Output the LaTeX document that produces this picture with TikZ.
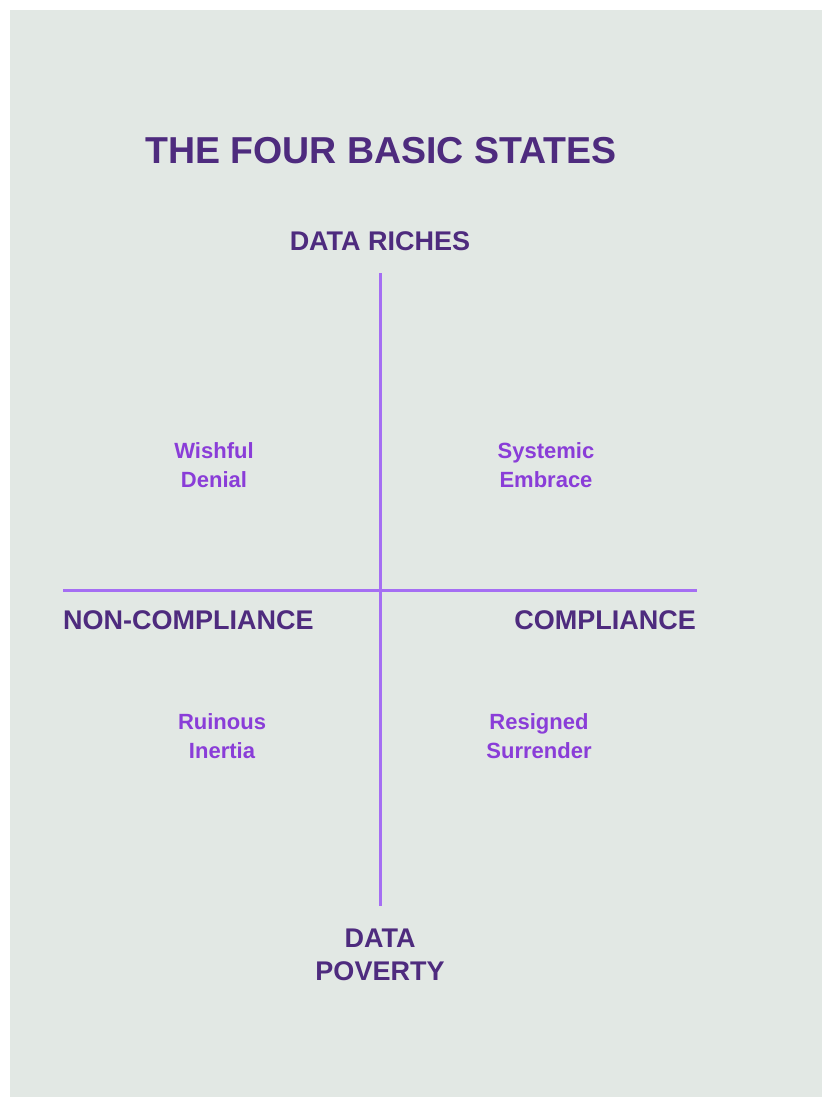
\documentclass[tikz,border=0pt]{standalone}
\usepackage{fontspec}
\setmainfont{Liberation Sans}
\usepackage{tikz}
\usetikzlibrary{positioning}

\definecolor{panelbg}{HTML}{E2E8E4}
\definecolor{deeppurple}{HTML}{4E2B7E}
\definecolor{axispurple}{HTML}{A56EF3}
\definecolor{statepurple}{HTML}{8A3DD8}

\tikzset{
  heading/.style={anchor=base, text=deeppurple, font=\bfseries\fontsize{37.5}{40}\selectfont},
  pole/.style={anchor=base, text=deeppurple, align=center, font=\bfseries\fontsize{27}{33}\selectfont},
  state/.style={anchor=base, text=statepurple, align=center, font=\bfseries\fontsize{22}{29}\selectfont},
  axis/.style={draw=axispurple, line width=3pt}
}

\begin{document}
\begin{tikzpicture}[x=1pt, y=-1pt, inner sep=0pt]
    % Page and panel
    \fill[white] (0,0) rectangle (822,1097);
    \fill[panelbg] (10,10) rectangle (822,1097);
    \useasboundingbox (0,0) rectangle (822,1097);

    % Define nodes
    \node[heading]                 (title)    at (381,163) {THE FOUR BASIC STATES};
    \node[pole]                    (riches)   at (380,250) {DATA RICHES};
    \node[pole]                    (poverty)  at (380,980) {DATA\\POVERTY};
    \node[pole, anchor=base west]  (noncomp)  at (63,629)  {NON-COMPLIANCE};
    \node[pole, anchor=base east]  (comp)     at (696,629) {COMPLIANCE};

    \node[state]                   (wishful)  at (214,487) {Wishful\\Denial};
    \node[state]                   (systemic) at (546,487) {Systemic\\Embrace};
    \node[state]                   (ruinous)  at (222,758) {Ruinous\\Inertia};
    \node[state]                   (resigned) at (539,758) {Resigned\\Surrender};

    % Axis ends
    \coordinate (top)    at (380,273);
    \coordinate (bottom) at (380,906);
    \coordinate (left)   at (63,590);
    \coordinate (right)  at (697,590);

    % Connect nodes
    \draw[axis] (top) -- (bottom);
    \draw[axis] (left) -- (right);
\end{tikzpicture}
\end{document}
